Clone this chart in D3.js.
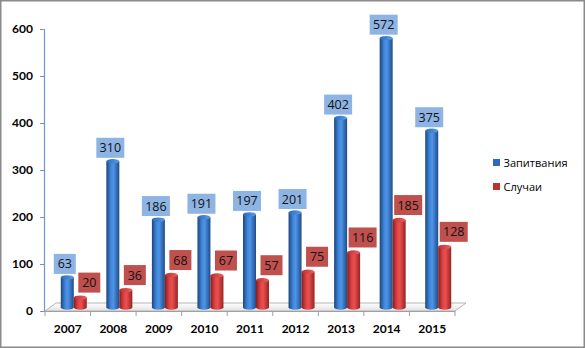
<!DOCTYPE html>
<html><head><meta charset="utf-8">
<script src="https://cdn.jsdelivr.net/npm/d3@7"></script>
<style>body{margin:0;background:#fff}svg{display:block}</style>
</head><body>
<script>
const years = ["2007","2008","2009","2010","2011","2012","2013","2014","2015"];
const feeding = [63,310,186,191,197,201,402,572,375];
const cases = [20,36,68,67,57,75,116,185,128];
const seriesNames = ["Запитвания","Случаи"];
const yTicks = [0,100,200,300,400,500,600];

const W=585,H=348;
const svg=d3.select("body").append("svg").attr("width",W).attr("height",H);
const defs=svg.append("defs");
function grad(id,stops){const g=defs.append("linearGradient").attr("id",id).attr("x1","0%").attr("x2","100%").attr("y1","0%").attr("y2","0%");
 stops.forEach(s=>g.append("stop").attr("offset",s[0]).attr("stop-color",s[1]));}
grad("gBlue",[["0%","#1c457c"],["35%","#4088dd"],["55%","#4d93e6"],["100%","#1f4d8a"]]);
grad("gRed",[["0%","#8a1b1b"],["35%","#e04444"],["55%","#ea5050"],["100%","#982222"]]);
grad("gBlueTop",[["0%","#2f6ab8"],["100%","#5a9ce8"]]);
grad("gRedTop",[["0%","#b83030"],["100%","#f06060"]]);
const fg=defs.append("linearGradient").attr("id","gFloor").attr("x1","0").attr("x2","0").attr("y1","0").attr("y2","1");
fg.append("stop").attr("offset","0%").attr("stop-color","#ffffff");
fg.append("stop").attr("offset","100%").attr("stop-color","#e2e2e2");

const y=d3.scaleLinear().domain([0,600]).range([311,29]);
const x=d3.scaleBand().domain(years).range([45,455]).padding(0);

// border
svg.append("rect").attr("x",0.75).attr("y",0.75).attr("width",W-1.5).attr("height",H-1.5)
 .attr("fill","#fff").attr("stroke","#8a8a8a").attr("stroke-width",1.5);

// y axis
const ya=svg.append("g").attr("transform","translate(44,0)").call(d3.axisLeft(y).tickValues(yTicks).tickSize(4).tickPadding(7));
ya.select(".domain").attr("stroke","#6d98cc").attr("stroke-width",1.2);
ya.selectAll(".tick line").attr("stroke","#6d98cc");
ya.selectAll("text").attr("font-family","Lato, 'Open Sans', sans-serif").attr("font-weight","bold").attr("font-size","12px").attr("fill","#000");

// floor
const fx0=x.range()[0], fx1=x.range()[1];
svg.append("polygon").attr("points",[[fx0,311],[fx1,311],[fx1+11,303],[fx0+11,303]].map(p=>p.join(",")).join(" "))
 .attr("fill","url(#gFloor)").attr("stroke","#b4b4b4").attr("stroke-width",1);
svg.append("line").attr("x1",fx0).attr("x2",fx1).attr("y1",311.5).attr("y2",311.5).attr("stroke","#a0a0a0");

// x axis
const xa=svg.append("g").attr("transform","translate(0,311)");
const bounds=d3.range(years.length+1).map(i=>fx0+i*x.bandwidth());
xa.selectAll("line").data(bounds).join("line").attr("x1",d=>d).attr("x2",d=>d).attr("y1",0).attr("y2",5).attr("stroke","#a0a0a0");
xa.selectAll("text").data(years).join("text").attr("x",d=>x(d)+x.bandwidth()/2).attr("y",22)
 .attr("text-anchor","middle").attr("font-family","Lato, 'Open Sans', sans-serif").attr("font-weight","bold").attr("font-size","12px").text(d=>d);

// bars
const bw=13, base=307.5, lift=4;
function cyl(cx,val,fill,top){
 const ty=y(val)-lift;
 const g=svg.append("g");
 g.append("ellipse").attr("cx",cx).attr("cy",base).attr("rx",bw/2).attr("ry",2.2).attr("fill",fill);
 g.append("rect").attr("x",cx-bw/2).attr("y",ty).attr("width",bw).attr("height",base-ty).attr("fill",fill);
 g.append("ellipse").attr("cx",cx).attr("cy",ty).attr("rx",bw/2).attr("ry",2.2).attr("fill",top);
 return ty;
}
function label(cx,bottom,val,fill){
 const w=String(val).length>2?28:22, h=20;
 svg.append("rect").attr("x",cx-w/2).attr("y",bottom-h).attr("width",w).attr("height",h).attr("fill",fill);
 svg.append("text").attr("x",cx).attr("y",bottom-h/2+4.5).attr("text-anchor","middle")
  .attr("font-family","'Open Sans', sans-serif").attr("font-size","12.5px").attr("fill","#111").text(val);
}
years.forEach((yr,i)=>{
 const c=x(yr)+x.bandwidth()/2;
 const bcx=c-0.5, rcx=c+12.5;
 const tb=cyl(bcx,feeding[i],"url(#gBlue)","url(#gBlueTop)");
 const tr=cyl(rcx,cases[i],"url(#gRed)","url(#gRedTop)");
 label(bcx-2.5,tb-3.5,feeding[i],"#8db4e3");
 label(rcx+9,tr-5,cases[i],"#c0504d");
});

// legend
const lg=svg.append("g");
const lcol=["#2f6ab8","#c0302f"];
seriesNames.forEach((n,i)=>{
 const ly=159+i*24;
 lg.append("rect").attr("x",493).attr("y",ly).attr("width",7).attr("height",7).attr("fill",lcol[i]);
 lg.append("text").attr("x",503.5).attr("y",ly+7.5).attr("font-family","'Open Sans', sans-serif").attr("font-size","11px").attr("fill","#000").text(n);
});
</script>
</body></html>
